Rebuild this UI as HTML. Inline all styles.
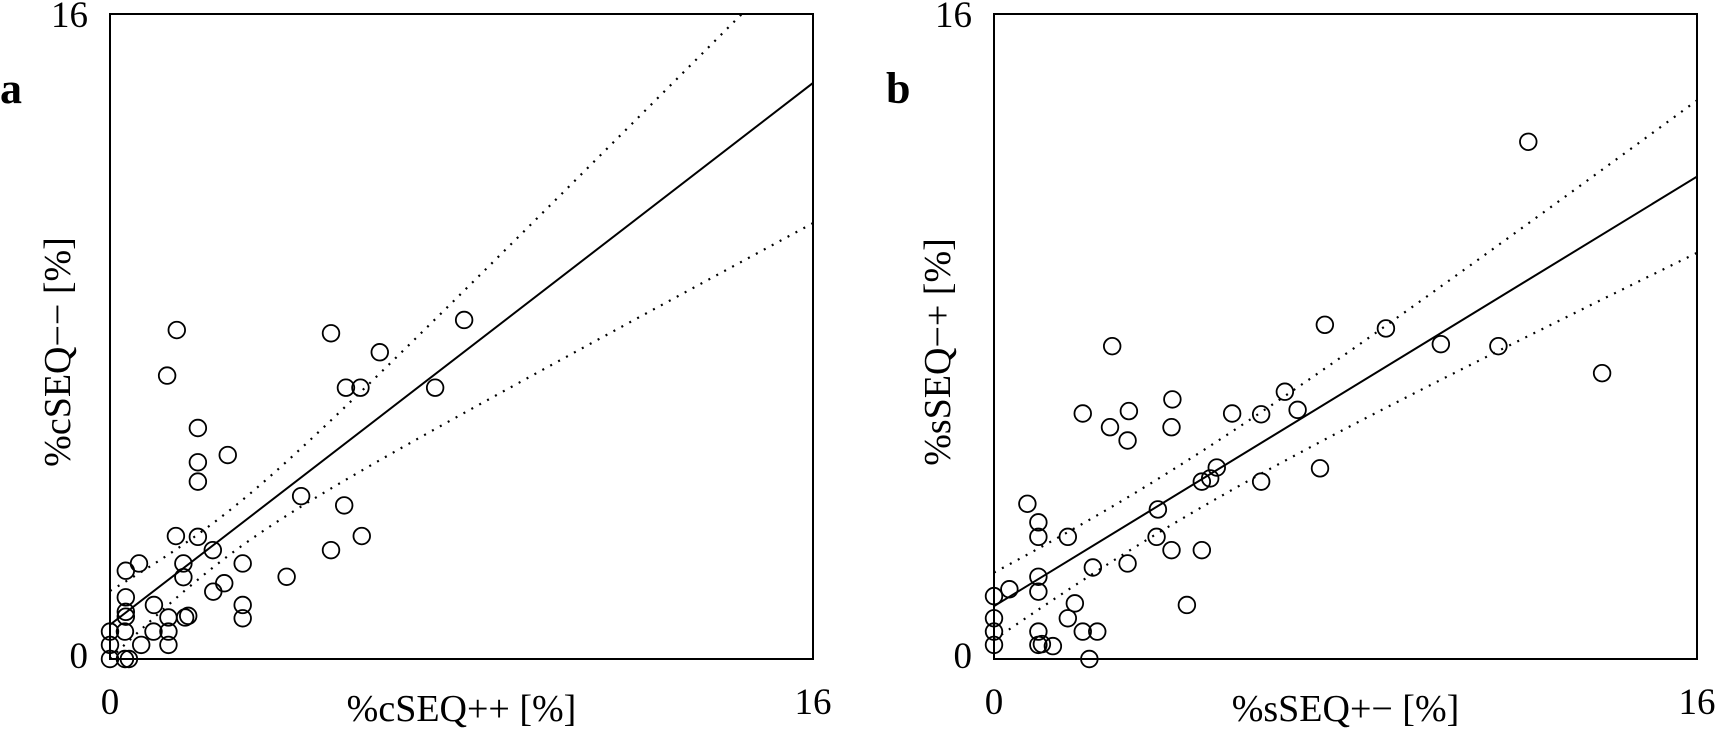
<!DOCTYPE html>
<html><head><meta charset="utf-8"><style>
html,body{margin:0;padding:0;background:#fff;}
svg{display:block;}
text{font-family:"Liberation Serif","Times New Roman",serif;fill:#000;}
</style></head>
<body>
<svg id="chart" width="1716" height="730" viewBox="0 0 1716 730"></svg>
<script>
// Panel a data
const aX = [1.52,1.30,5.03,6.14,5.37,5.70,7.40,8.06,2.00,2.00,2.68,2.00,4.35,5.33,5.03,5.73,4.02,
            1.50,2.00,2.34,3.02,1.67,1.67,0.66,0.36,2.60,2.35,0.36,1.00,3.02,3.02,0.36,0.36,1.33,1.71,1.78,
            0,0.34,0.99,1.33,0,0.71,1.33,0,0.34,0.43];
const aY = [8.16,7.03,8.08,7.61,6.73,6.73,6.73,8.41,5.73,4.88,5.06,4.40,4.04,3.81,2.70,3.05,2.04,
            3.05,3.03,2.70,2.37,2.37,2.03,2.37,2.19,1.88,1.67,1.53,1.34,1.34,1.01,1.17,1.05,1.03,1.03,1.07,
            0.68,0.68,0.68,0.68,0.35,0.35,0.35,0,0,0];
const aFit = [0.85, 0.84];      // intercept, slope
const aBand = [0.30, 2.5, 0.0647]; // A, centre, B  -> half width sqrt(A + B(x-c)^2)

// Panel b data
const bX = [7.53,2.69,4.06,2.02,3.07,2.64,3.04,4.04,5.42,6.08,6.62,6.91,7.42,6.08,5.07,4.92,4.73,3.73,3.70,4.04,4.73,
            3.04,2.25,1.68,0.76,1.01,1.01,1.01,1.01,0.35,0,1.84,4.39,1.68,0,0,0,1.01,2.02,2.35,1.01,1.09,1.34,2.17,
            12.16,8.92,10.17,11.48,13.84];
const bY = [8.29,7.76,6.44,6.09,6.15,5.75,5.42,5.75,6.09,6.07,6.63,6.18,4.73,4.40,4.75,4.48,4.40,3.71,3.03,2.70,2.70,
            2.37,2.27,3.03,3.85,3.39,3.03,2.04,1.67,1.73,1.56,1.38,1.34,1.01,1.01,0.68,0.35,0.68,0.68,0.68,0.35,0.37,0.32,0,
            12.83,8.20,7.81,7.76,7.09];
const bFit = [1.31, 0.666];
const bBand = [0.45, 3.5, 0.02];

const axisMin = 0, axisMax = 16;
const tickLabels = ["0","16"];

const NS = "http://www.w3.org/2000/svg";
const svg = document.getElementById("chart");
function mk(tag, attrs, parent){
  const e = document.createElementNS(NS, tag);
  for (const k in attrs) e.setAttribute(k, attrs[k]);
  (parent||svg).appendChild(e);
  return e;
}

function panel(cfg){
  const L=cfg.left, R=cfg.right, T=14, B=659;
  const sx = v => L + (v-axisMin)/(axisMax-axisMin)*(R-L);
  const sy = v => B - (v-axisMin)/(axisMax-axisMin)*(B-T);
  const g = mk("g", {});
  
  
  const clipId = cfg.id + "-clip";
  const cp = mk("clipPath", {id: clipId}, g);
  mk("rect", {x:L, y:T, width:R-L, height:B-T}, cp);

  const lines = mk("g", {"clip-path":"url(#"+clipId+")"}, g);
  
  
  const f = x => cfg.fit[0] + cfg.fit[1]*x;
  const hw = x => Math.sqrt(cfg.band[0] + cfg.band[2]*(x-cfg.band[1])*(x-cfg.band[1]));
  const fitLine = mk("line", {x1:sx(0), y1:sy(f(0)), x2:sx(16), y2:sy(f(16)), stroke:"#000","stroke-width":2}, lines);
  
  
  [1,-1].forEach(sgn=>{
    let pts=[];
    for(let i=0;i<=160;i++){ const x=i/10; pts.push(sx(x).toFixed(2)+","+sy(f(x)+sgn*hw(x)).toFixed(2)); }
    const pl = mk("polyline", {points:pts.join(" "), fill:"none", stroke:"#000","stroke-width":2.2,"stroke-dasharray":"2 7"}, lines);
    
    
  });

  const pg = mk("g", {}, g);
  
  
  cfg.xs.forEach((x,i)=>{
    const c = mk("circle", {cx:sx(x), cy:sy(cfg.ys[i]), r:8.3, fill:"none", stroke:"#000","stroke-width":1.8}, pg);
    
    
  });

  const fr = mk("rect", {x:L, y:T, width:R-L, height:B-T, fill:"none", stroke:"#000","stroke-width":2}, g);
  
  

  const yt0 = mk("text", {x:L-22, y:668, "font-size":37, "text-anchor":"end"}, g); yt0.textContent = tickLabels[0];
   
  const yt1 = mk("text", {x:L-22, y:27, "font-size":37, "text-anchor":"end"}, g); yt1.textContent = tickLabels[1];
   
  const xt0 = mk("text", {x:L, y:714, "font-size":37, "text-anchor":"middle"}, g); xt0.textContent = tickLabels[0];
   
  const xt1 = mk("text", {x:R, y:714, "font-size":37, "text-anchor":"middle"}, g); xt1.textContent = tickLabels[1];
   

  const xtitle = mk("text", {x:(L+R)/2, y:721, "font-size":38, "text-anchor":"middle"}, g); xtitle.textContent = cfg.xtitle;
   
  const yx = cfg.ytx, yy = 352;
  const ytitle = mk("text", {x:yx, y:yy, "font-size":38, "text-anchor":"middle", transform:"rotate(-90 "+yx+" "+yy+")"}, g); ytitle.textContent = cfg.ytitle;
   
  const pl = mk("text", {x:cfg.lx, y:103, "font-size":44, "font-weight":"bold"}, g); pl.textContent = cfg.label;
   
}

panel({id:"panel-a", left:110, right:813, xs:aX, ys:aY, fit:aFit, band:aBand,
  xtitle:"%cSEQ++ [%]", ytitle:"%cSEQ\u2212\u2212 [%]", ytx:70, lx:0, label:"a"});
panel({id:"panel-b", left:994, right:1697, xs:bX, ys:bY, fit:bFit, band:bBand,
  xtitle:"%sSEQ+\u2212 [%]", ytitle:"%sSEQ\u2212+ [%]", ytx:950, lx:886, label:"b"});
</script>
</body></html>
